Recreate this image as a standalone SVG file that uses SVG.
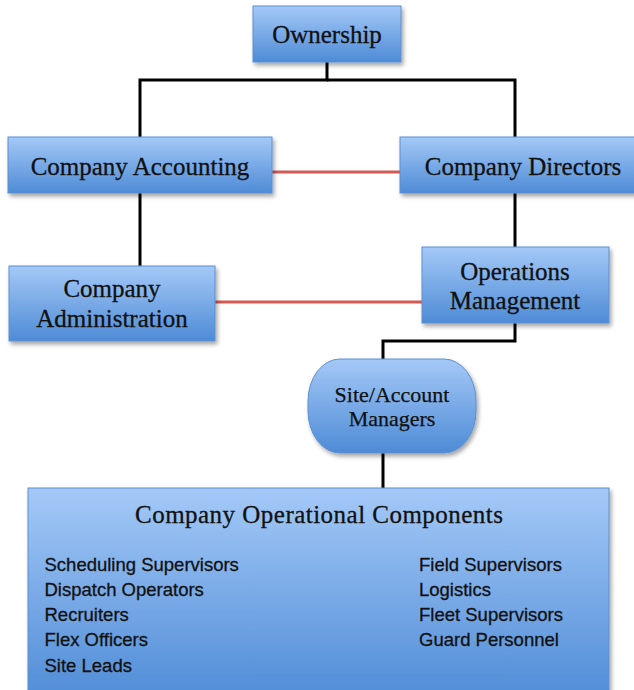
<svg xmlns="http://www.w3.org/2000/svg" width="634" height="690" viewBox="0 0 634 690">
<defs>
<linearGradient id="g" x1="0" y1="0" x2="0" y2="1">
<stop offset="0" stop-color="#a4c9f7"/>
<stop offset="1" stop-color="#4e8bd6"/>
</linearGradient>
<filter id="sh" x="-10%" y="-10%" width="130%" height="140%">
<feDropShadow dx="2" dy="3" stdDeviation="2" flood-color="#000" flood-opacity="0.35"/>
</filter>
<style>
.box{fill:url(#g);stroke:#5a8fd1;stroke-width:1;filter:url(#sh)}
.t{font-family:"Liberation Serif","Times New Roman",serif;font-size:25px;fill:#111;stroke:#111;stroke-width:0.3;text-anchor:middle}
.ts{font-family:"Liberation Serif","Times New Roman",serif;font-size:22px;fill:#111;stroke:#111;stroke-width:0.25;text-anchor:middle}
.li{font-family:"Liberation Sans",Arial,sans-serif;font-size:18.5px;fill:#111;stroke:#111;stroke-width:0.3}
.k{fill:none;stroke:#000;stroke-width:3}
.r{fill:none;stroke:#d45a55;stroke-width:3}
</style>
</defs>
<g id="connectors">
<polyline class="k" points="327,62 327,80 140,80 140,138"/>
<polyline class="k" points="327,80 515,80 515,138"/>
<line class="r" x1="272" y1="172" x2="400" y2="172"/>
<line class="k" x1="140" y1="193" x2="140" y2="266"/>
<line class="k" x1="515" y1="193" x2="515" y2="247"/>
<line class="r" x1="215" y1="302" x2="422" y2="302"/>
<polyline class="k" points="515,322 515,341 383,341 383,360"/>
<line class="k" x1="383" y1="452" x2="383" y2="488"/>
</g>
<g id="ownership">
<rect class="box" x="253" y="6" width="148" height="56"/>
<text class="t" x="327" y="43">Ownership</text>
</g>
<g id="company-accounting">
<rect class="box" x="8" y="137" width="264" height="56"/>
<text class="t" x="140" y="175">Company Accounting</text>
</g>
<g id="company-directors">
<rect class="box" x="400" y="137" width="240" height="56"/>
<text class="t" x="523" y="175">Company Directors</text>
</g>
<g id="company-administration">
<rect class="box" x="9" y="266" width="206" height="75"/>
<text class="t" x="112" y="297">Company</text>
<text class="t" x="112" y="327">Administration</text>
</g>
<g id="operations-management">
<rect class="box" x="422" y="247" width="187" height="76"/>
<text class="t" x="515" y="280">Operations</text>
<text class="t" x="515" y="309">Management</text>
</g>
<g id="site-account-managers">
<rect class="box" x="308" y="359" width="168" height="94" rx="32" ry="42"/>
<text class="ts" x="392" y="402">Site/Account</text>
<text class="ts" x="392" y="426">Managers</text>
</g>
<g id="operational-components">
<rect class="box" x="28" y="488" width="581" height="215"/>
<text class="t" x="319" y="523" textLength="368">Company Operational Components</text>
<text class="li" x="44.5" y="571">Scheduling Supervisors</text>
<text class="li" x="44.5" y="596">Dispatch Operators</text>
<text class="li" x="44.5" y="621">Recruiters</text>
<text class="li" x="44.5" y="646">Flex Officers</text>
<text class="li" x="44.5" y="672">Site Leads</text>
<text class="li" x="419" y="571">Field Supervisors</text>
<text class="li" x="419" y="596">Logistics</text>
<text class="li" x="419" y="621">Fleet Supervisors</text>
<text class="li" x="419" y="646">Guard Personnel</text>
</g>
</svg>
